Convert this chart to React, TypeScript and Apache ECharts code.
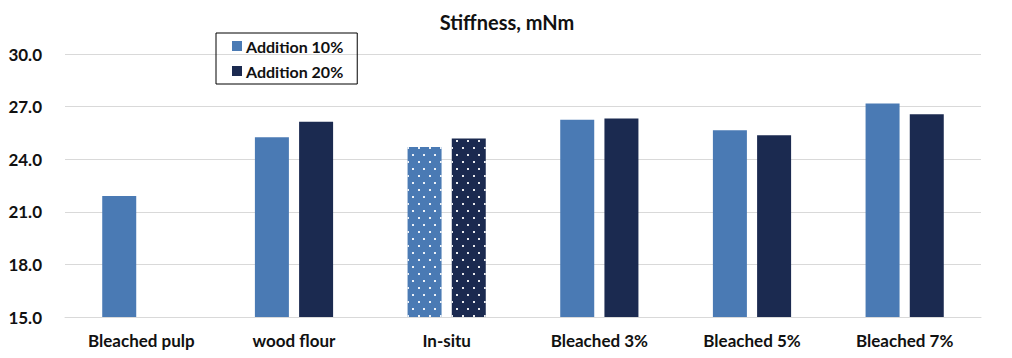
import React, { useEffect, useRef } from "react";
import * as echarts from "echarts";

const categories = ["Bleached pulp", "wood flour", "In-situ", "Bleached 3%", "Bleached 5%", "Bleached 7%"];
const seriesNames = ["Addition 10%", "Addition 20%"];
const addition10 = [21.9, 25.25, 24.7, 26.25, 25.65, 27.18];
const addition20: (number | null)[] = [null, 26.13, 25.18, 26.32, 25.37, 26.57];
const dottedCategory = "In-situ";
const colors = ["#4a7ab4", "#1b2a50"];

const FONT = "Lato, 'Open Sans', sans-serif";

export default function App() {
  const ref = useRef<HTMLDivElement>(null);
  useEffect(() => {
    if (!ref.current) return;
    const chart = echarts.init(ref.current, null, { renderer: "svg" });
    const decal = {
      symbol: "rect",
      symbolSize: 1,
      color: "rgba(255,255,255,0.9)",
      dashArrayX: [[1.5, 8.5], [0, 5, 1.5, 3.5]],
      dashArrayY: [1.5, 4.5],
      rotation: 0,
    };
    const mk = (vals: (number | null)[], color: string) =>
      vals.map((v, i) =>
        categories[i] === dottedCategory
          ? { value: v, itemStyle: { color, decal } }
          : { value: v }
      );
    chart.setOption({
      animation: false,
      backgroundColor: "#ffffff",
      title: {
        text: "Stiffness, mNm",
        left: 502,
        textAlign: "center",
        top: 7,
        textStyle: { fontFamily: FONT, fontWeight: "bold", fontSize: 20, color: "#111" },
      },
      legend: {
        orient: "vertical",
        left: 216,
        top: 33,
        itemWidth: 10,
        itemHeight: 10,
        itemGap: 9,
        padding: [5, 14, 5, 16],
        borderColor: "#000",
        borderWidth: 1,
        icon: "rect",
        data: seriesNames,
        textStyle: { fontFamily: FONT, fontWeight: "bold", fontSize: 16, color: "#111", padding: [0, 0, 0, -1] },
      },
      grid: { left: 65, right: 31, top: 54, bottom: 41 },
      xAxis: {
        type: "category",
        data: categories,
        axisTick: { show: false },
        axisLine: { show: true, lineStyle: { color: "#d9d9d9" } },
        axisLabel: { fontFamily: FONT, fontWeight: "bold", fontSize: 17, color: "#111", margin: 15 },
      },
      yAxis: {
        type: "value",
        min: 15,
        max: 30,
        interval: 3,
        axisLine: { show: false },
        axisTick: { show: false },
        splitLine: { lineStyle: { color: "#d9d9d9" } },
        axisLabel: {
          fontFamily: FONT,
          fontWeight: "bold",
          fontSize: 17,
          color: "#111",
          margin: 23,
          formatter: (v: number) => v.toFixed(1),
        },
      },
      series: [
        {
          name: seriesNames[0],
          type: "bar",
          data: mk(addition10, colors[0]),
          itemStyle: { color: colors[0] },
          barWidth: 34,
          barGap: "30%",
        },
        {
          name: seriesNames[1],
          type: "bar",
          data: mk(addition20, colors[1]),
          itemStyle: { color: colors[1] },
          barWidth: 34,
          barGap: "30%",
        },
      ],
    });
    return () => chart.dispose();
  }, []);
  return (
    <div
      ref={ref}
      style={{ position: "absolute", left: 0, top: 0, width: 1012, height: 358 }}
    />
  );
}
